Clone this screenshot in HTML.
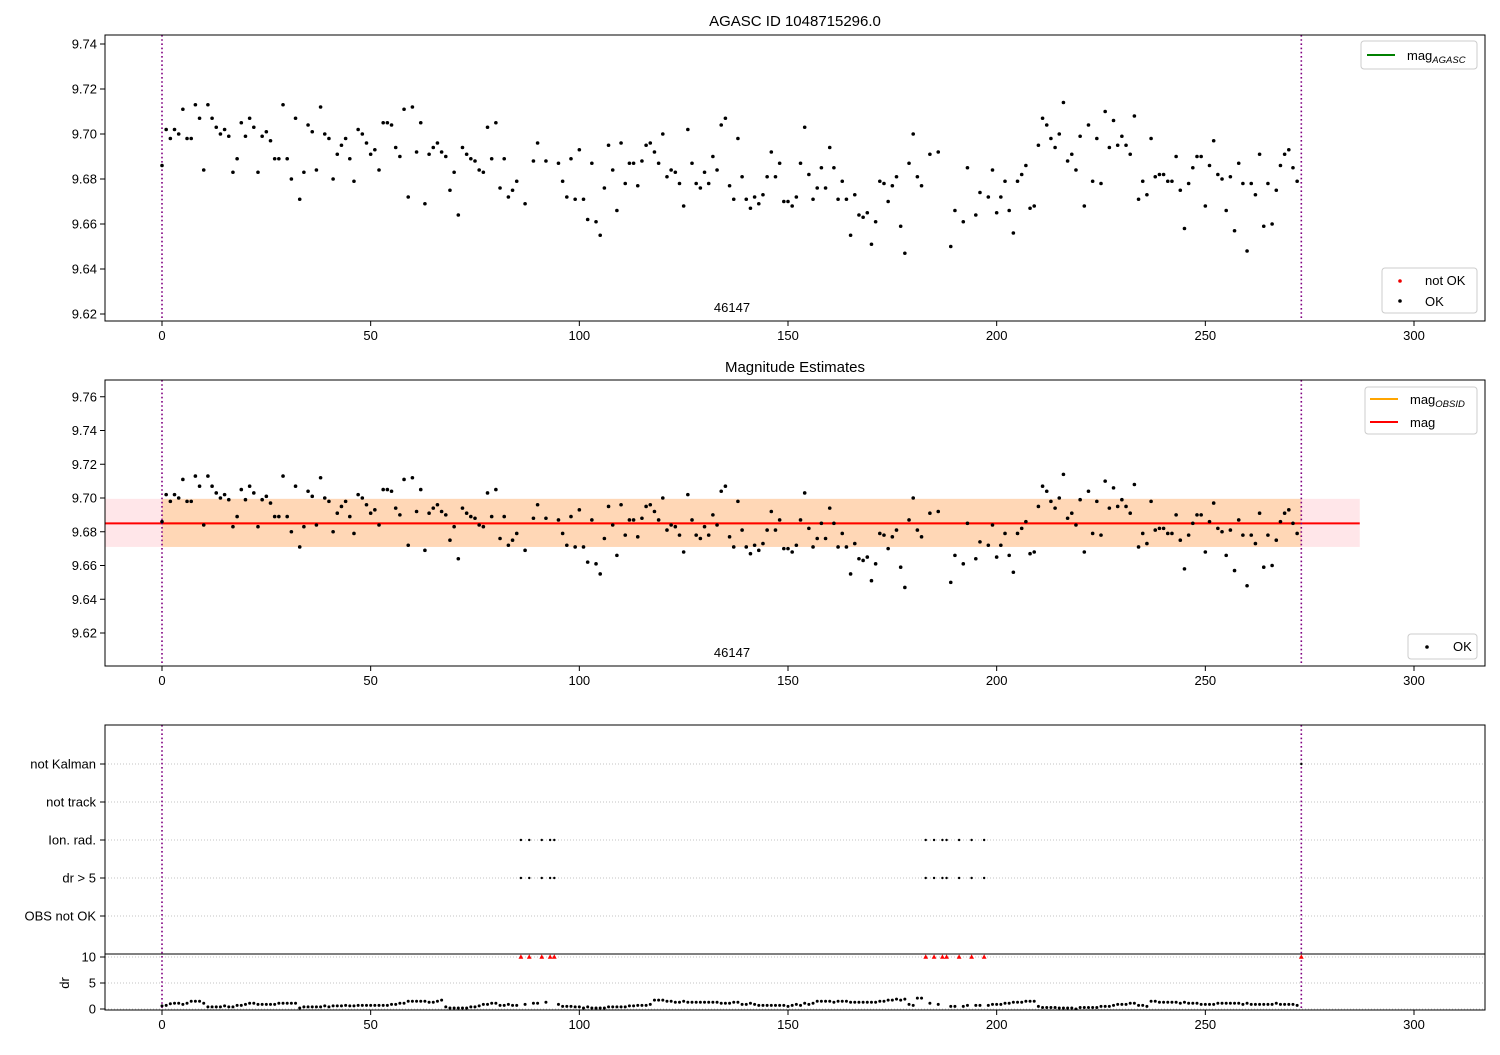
<!DOCTYPE html>
<html><head><meta charset="utf-8"><style>
html,body{margin:0;padding:0;background:#fff}
svg text{font-family:"Liberation Sans","DejaVu Sans",sans-serif;fill:#000}
</style></head><body>
<svg id="chart" width="1500" height="1050" viewBox="0 0 1500 1050" xmlns="http://www.w3.org/2000/svg">
<rect x="0" y="0" width="1500" height="1050" fill="#fff"/>
<g id="g-top"></g>
<g id="g-mid"></g>
<g id="g-bot"></g>
<text x="795" y="26" font-size="15" text-anchor="middle">AGASC ID 1048715296.0</text>
<text x="795" y="372" font-size="15" text-anchor="middle">Magnitude Estimates</text>
</svg>
<script>
const mag = [9.686,9.702,9.698,9.702,9.700,9.711,9.698,9.698,9.713,9.707,
9.684,9.713,9.707,9.703,9.700,9.702,9.699,9.683,9.689,9.705,
9.699,9.707,9.703,9.683,9.699,9.701,9.697,9.689,9.689,9.713,
9.689,9.680,9.707,9.671,9.683,9.704,9.701,9.684,9.712,9.700,
9.698,9.680,9.691,9.695,9.698,9.689,9.679,9.702,9.700,9.696,
9.691,9.693,9.684,9.705,9.705,9.704,
9.694,9.690,9.711,9.672,9.712,9.692,9.705,9.669,9.691,9.694,
9.696,9.692,9.690,9.675,9.683,9.664,9.694,9.691,9.689,9.688,
9.684,9.683,9.703,9.689,9.705,9.676,9.689,9.672,9.675,9.679,
null,9.669,null,9.688,9.696,null,9.688,null,null,9.687,
9.679,9.672,9.689,9.671,9.693,9.671,9.662,9.687,9.661,9.655,
9.676,9.695,9.684,9.666,9.696,9.678,9.687,
9.687,9.677,9.688,9.695,9.696,9.692,9.687,9.700,9.681,9.684,
9.683,9.678,9.668,9.702,9.687,9.678,9.676,9.683,9.678,9.690,
9.684,9.704,9.707,9.677,9.671,9.698,9.681,9.671,9.667,9.672,
9.669,9.673,9.681,9.692,9.681,9.687,9.670,9.670,9.668,9.672,
9.687,9.703,9.682,9.671,9.676,9.685,9.676,9.694,9.685,9.671,
9.679,9.671,9.655,9.673,9.664,9.663,
9.665,9.651,9.661,9.679,9.678,9.670,9.677,9.681,9.659,9.647,
9.687,9.700,9.681,9.677,null,9.691,null,9.692,null,null,
9.650,9.666,null,9.661,9.685,null,9.664,9.674,null,9.672,
9.684,9.665,9.672,9.679,9.666,9.656,9.679,9.682,9.686,9.667,
9.668,9.695,9.707,9.704,9.698,9.694,9.700,9.714,9.688,9.691,
9.684,9.699,9.668,9.704,9.679,9.698,
9.678,9.710,9.694,9.706,9.695,9.699,9.695,9.691,9.708,9.671,
9.679,9.673,9.698,9.681,9.682,9.682,9.679,9.679,9.690,9.675,
9.658,9.678,9.685,9.690,9.690,9.668,9.686,9.697,9.682,9.680,
9.666,9.681,9.657,9.687,9.678,9.648,9.678,9.673,9.691,9.659,
9.678,9.660,9.675,9.686,9.691,9.693,9.685,9.679,null];
const dr = [0.6,0.7,1.0,1.1,1.1,0.9,1.1,1.5,1.5,1.5,
1.1,0.4,0.4,0.4,0.4,0.6,0.4,0.4,0.7,0.7,
0.9,1.1,1.1,0.9,0.9,0.9,0.9,0.9,1.1,1.1,
1.1,1.1,1.1,0.2,0.4,0.4,0.4,0.4,0.4,0.6,
0.4,0.6,0.6,0.6,0.7,0.6,0.6,0.7,0.7,0.7,
0.7,0.7,0.7,0.7,0.7,0.9,0.9,1.1,1.1,1.5,
1.5,1.5,1.5,1.5,1.3,1.3,1.5,1.7,0.4,0.2,
0.2,0.2,0.2,0.2,0.4,0.4,0.6,0.9,0.9,1.1,
1.1,0.7,0.7,0.9,0.7,0.7,null,0.9,null,1.1,
1.1,null,1.3,null,null,0.9,0.5,0.5,0.5,0.4,
0.4,0.2,0.4,0.2,0.2,0.2,0.2,0.4,0.4,0.4,
0.4,0.4,0.6,0.6,0.7,0.7,0.7,0.9,1.7,1.7,
1.7,1.5,1.5,1.3,1.3,1.5,1.3,1.3,1.3,1.3,
1.3,1.3,1.3,1.3,1.1,1.1,1.1,1.3,1.3,0.9,
0.9,1.1,0.9,0.7,0.7,0.7,0.7,0.7,0.7,0.7,
0.5,0.7,0.9,0.7,1.1,0.9,1.1,1.5,1.5,1.5,
1.5,1.3,1.5,1.5,1.5,1.3,1.3,1.3,1.3,1.3,
1.3,1.3,1.5,1.5,1.7,1.7,1.9,1.7,1.9,0.9,
0.7,2.1,2.1,null,1.1,null,0.9,null,null,0.5,
0.5,null,0.5,0.7,null,0.7,0.7,null,0.7,0.9,
0.9,0.9,1.1,1.1,1.3,1.3,1.3,1.5,1.5,1.5,
0.5,0.3,0.3,0.3,0.3,0.2,0.2,0.2,0.2,0.0,
0.3,0.3,0.3,0.3,0.3,0.5,0.5,0.5,0.7,0.9,
0.9,0.9,1.1,1.1,0.7,0.7,0.5,1.5,1.5,1.3,
1.3,1.3,1.3,1.3,1.1,1.3,1.1,1.1,1.1,0.9,
0.9,0.9,0.9,1.1,1.1,1.1,1.1,1.1,1.1,0.9,
1.1,0.9,0.9,0.9,0.9,0.9,0.9,1.1,0.9,0.9,
0.9,0.9,0.7,null];
const badIdx = [86,88,91,93,94,183,185,187,188,191,194,197,273];
const ionIdx = [86,88,91,93,94,183,185,187,188,191,194,197];
const drBigIdx = [86,88,91,93,94,183,185,187,188,191,194,197];
const notKalmanIdx = [273];
const flagLabels = ["not Kalman","not track","Ion. rad.","dr > 5","OBS not OK"];
const xTicks = [0,50,100,150,200,250,300];
const topYTicks = [9.62,9.64,9.66,9.68,9.70,9.72,9.74];
const midYTicks = [9.62,9.64,9.66,9.68,9.70,9.72,9.74,9.76];
const drTicks = [0,5,10];
const magMean = [9.685];
const magBand = [9.671,9.6995];
const obsRange = [0,273];
const bandEndX = [287];

const NS="http://www.w3.org/2000/svg";
function mk(parent,tag,attrs,text){const e=document.createElementNS(NS,tag);for(const k in attrs)e.setAttribute(k,attrs[k]);if(text!==undefined)e.textContent=text;parent.appendChild(e);return e;}
const L=105,R=1485;
const xS=v=>162+(1414-162)/300*v;
const topY=v=>314-(v-9.62)/0.02*45;
const midY=v=>633-(v-9.62)/0.02*33.75;
const drY=v=>1009-v*5.2;

function xAxis(g,bottom,name){
  xTicks.forEach(t=>{
    const tk=mk(g,'line',{x1:xS(t),x2:xS(t),y1:bottom,y2:bottom+5,stroke:'#000','stroke-width':1});
    
    
    const lb=mk(g,'text',{x:xS(t),y:bottom+19,'font-size':13,'text-anchor':'middle'},String(t));
    
    
  });
}
function yAxis(g,ticks,sc,name){
  ticks.forEach(t=>{
    const tk=mk(g,'line',{x1:L-5,x2:L,y1:sc(t),y2:sc(t),stroke:'#000','stroke-width':1});
    
    
    const lb=mk(g,'text',{x:L-8,y:sc(t)+4.5,'font-size':13,'text-anchor':'end'},t.toFixed(2));
    
    
  });
}
function vlines(g,top,bottom){
  obsRange.forEach(v=>{
    const l=mk(g,'line',{x1:xS(v),x2:xS(v),y1:top,y2:bottom,stroke:'#800080','stroke-width':1.6,'stroke-dasharray':'1.6,2.6'});
    
    
  });
}
function dots(g,sc,name){
  mag.forEach((v,i)=>{
    if(v===null)return;
    const c=mk(g,'circle',{cx:xS(i),cy:sc(v),r:1.8,fill:'#000'});
    
    
  });
}
function frame(g,top,bottom,name){
  const f=mk(g,'rect',{x:L,y:top,width:R-L,height:bottom-top,fill:'none',stroke:'#000','stroke-width':1});
  
  
}
function legendBox(g,x,y,w,h,name){
  const b=mk(g,'rect',{x:x,y:y,width:w,height:h,rx:3,fill:'#fff','fill-opacity':0.85,stroke:'#ccc','stroke-width':1});
  
  
}
function subLabel(g,x,y,main,sub,name){
  const t=mk(g,'text',{x:x,y:y,'font-size':13});
  
  
  const a=mk(t,'tspan',{},main);
  const b=mk(t,'tspan',{dy:3,'font-size':9.5,'font-style':'italic'},sub);
}

/* TOP */
const gt=document.getElementById('g-top');
vlines(gt,35,321);
dots(gt,topY,'mag-point');
frame(gt,35,321,'top-axes-frame');
xAxis(gt,321,'top-x');
yAxis(gt,topYTicks,topY,'top-y');
let t=mk(gt,'text',{x:732,y:312,'font-size':13,'text-anchor':'middle'},'46147');


legendBox(gt,1361,41,116,28,'top-legend');
let ln=mk(gt,'line',{x1:1367,x2:1395,y1:55,y2:55,stroke:'#008000','stroke-width':2});


subLabel(gt,1407,60,'mag','AGASC','legend-mag-agasc');
legendBox(gt,1382,268,95,45,'top-status-legend');
let c=mk(gt,'circle',{cx:1400,cy:281,r:1.8,fill:'#e00'});


t=mk(gt,'text',{x:1425,y:285,'font-size':13},'not OK');


c=mk(gt,'circle',{cx:1400,cy:301,r:1.8,fill:'#000'});


t=mk(gt,'text',{x:1425,y:306,'font-size':13},'OK');



/* MIDDLE */
const gm=document.getElementById('g-mid');
let r=mk(gm,'rect',{x:L,y:midY(magBand[1]),width:xS(bandEndX[0])-L,height:midY(magBand[0])-midY(magBand[1]),fill:'#ffb6c1','fill-opacity':0.35});


r=mk(gm,'rect',{x:xS(obsRange[0]),y:midY(magBand[1]),width:xS(obsRange[1])-xS(obsRange[0]),height:midY(magBand[0])-midY(magBand[1]),fill:'#ffa500','fill-opacity':0.22});


ln=mk(gm,'line',{x1:xS(obsRange[0]),x2:xS(obsRange[1]),y1:midY(magMean[0]),y2:midY(magMean[0]),stroke:'#ffa500','stroke-width':2});


ln=mk(gm,'line',{x1:L,x2:xS(bandEndX[0]),y1:midY(magMean[0]),y2:midY(magMean[0]),stroke:'#ff0000','stroke-width':2});


vlines(gm,380,666);
dots(gm,midY,'mag-estimate-point');
frame(gm,380,666,'middle-axes-frame');
xAxis(gm,666,'middle-x');
yAxis(gm,midYTicks,midY,'middle-y');
t=mk(gm,'text',{x:732,y:657,'font-size':13,'text-anchor':'middle'},'46147');


legendBox(gm,1365,387,112,47,'middle-legend');
ln=mk(gm,'line',{x1:1370,x2:1398,y1:399,y2:399,stroke:'#ffa500','stroke-width':2});


subLabel(gm,1410,404,'mag','OBSID','legend-mag-obsid');
ln=mk(gm,'line',{x1:1370,x2:1398,y1:422,y2:422,stroke:'#ff0000','stroke-width':2});


t=mk(gm,'text',{x:1410,y:427,'font-size':13},'mag');


legendBox(gm,1408,634,69,25,'middle-status-legend');
c=mk(gm,'circle',{cx:1427,cy:647,r:1.8,fill:'#000'});


t=mk(gm,'text',{x:1453,y:651,'font-size':13},'OK');



/* BOTTOM */
const gb=document.getElementById('g-bot');
const rowY=k=>764+38*k;
flagLabels.forEach((lab,k)=>{
  const gl=mk(gb,'line',{x1:L,x2:R,y1:rowY(k),y2:rowY(k),stroke:'#b0b0b0','stroke-width':0.8,'stroke-dasharray':'1,2'});
  
  
  const tk=mk(gb,'line',{x1:L-5,x2:L,y1:rowY(k),y2:rowY(k),stroke:'#000'});
  
  
  const tl=mk(gb,'text',{x:96,y:rowY(k)+4.5,'font-size':13,'text-anchor':'end'},lab);
  
  
});
drTicks.forEach(v=>{
  const gl=mk(gb,'line',{x1:L,x2:R,y1:drY(v),y2:drY(v),stroke:'#b0b0b0','stroke-width':0.8,'stroke-dasharray':'1,2'});
  
  
  const tk=mk(gb,'line',{x1:L-5,x2:L,y1:drY(v),y2:drY(v),stroke:'#000'});
  
  
  const tl=mk(gb,'text',{x:96,y:drY(v)+4.5,'font-size':13,'text-anchor':'end'},String(v));
  
  
});
vlines(gb,725,1010);
function flagDots(arr,k,name){
  arr.forEach(i=>{
    const d=mk(gb,'circle',{cx:xS(i),cy:rowY(k),r:1.2,fill:'#000'});
    
    
  });
}
flagDots(notKalmanIdx,0,'not-kalman-marker');
flagDots(ionIdx,2,'ion-rad-marker');
flagDots(drBigIdx,3,'dr-gt-5-marker');
dr.forEach((v,i)=>{
  if(v===null)return;
  const d=mk(gb,'circle',{cx:xS(i),cy:drY(v),r:1.5,fill:'#000'});
  
  
});
badIdx.forEach(i=>{
  const x=xS(i),y=drY(10);
  const p=mk(gb,'polygon',{points:`${x},${y-2.6} ${x-2.4},${y+1.8} ${x+2.4},${y+1.8}`,fill:'#ff0000'});
  
  
});
ln=mk(gb,'line',{x1:L,x2:R,y1:954,y2:954,stroke:'#000','stroke-width':1});


frame(gb,725,1010,'bottom-axes-frame');
xAxis(gb,1010,'bottom-x');
t=mk(gb,'text',{x:0,y:0,'font-size':13,'text-anchor':'middle',transform:'translate(69,983) rotate(-90)'},'dr');


</script>
</body></html>
